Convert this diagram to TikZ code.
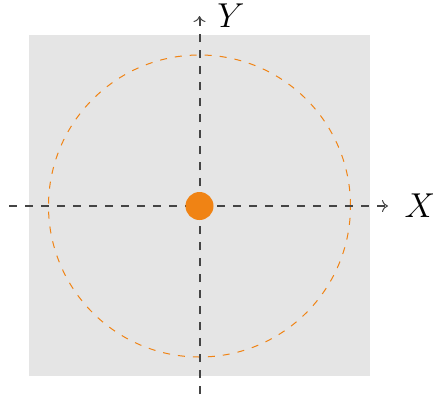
\documentclass[tikz,border=0pt]{standalone}
\usetikzlibrary{arrows.meta}
\definecolor{bgray}{HTML}{E5E5E5}
\definecolor{dotorange}{HTML}{F08314}
\definecolor{axisgray}{HTML}{444444}
\begin{document}
\begin{tikzpicture}[x=0.5pt,y=-0.5pt,
  axis/.style={axisgray,line width=1pt,dash pattern=on 4pt off 4pt,-{To[line width=0.5pt,length=3pt,width=6pt]}},
  orbit/.style={dotorange,line width=0.5pt,dash pattern=on 3.5pt off 4pt},
  lbl/.style={inner sep=0pt,font=\fontsize{16}{19}\selectfont}]
\useasboundingbox (0,0) rectangle (433,398);
\fill[bgray] (29,35) rectangle (370,376);
\coordinate (O) at (199.5,206);
\draw[orbit] (O) circle[radius=75.5pt];
\coordinate (xs) at (9,206);
\coordinate (xe) at (388,206);
\coordinate (ys) at (199.5,394);
\coordinate (ye) at (199.5,16);
\draw[axis] (xs) -- (xe);
\draw[axis] (ys) -- (ye);
\fill[dotorange] (O) circle[radius=7pt];
\node[lbl] (X) at (420,206) {$X$};
\node[lbl] (Y) at (231,16) {$Y$};
\end{tikzpicture}
\end{document}
